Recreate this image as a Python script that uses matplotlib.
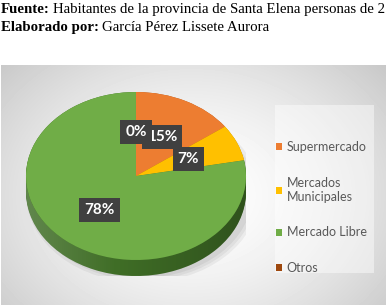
import matplotlib.pyplot as plt
import numpy as np
from matplotlib.patches import Rectangle, Ellipse, Polygon

# Datos del gráfico
categorias = ['Supermercado', 'Mercados\nMunicipales', 'Mercado Libre', 'Otros']
porcentajes = [15, 7, 78, 0.001]
etiquetas = ['15%', '7%', '78%', '0%']
colores = ['#ED7D31', '#FFC000', '#70AD47', '#9E480E']
colores_lado = ['#a8541d', '#b88a00', '#3f6d26', '#6b300a']

fuente = 'Habitantes de la provincia de Santa Elena personas de 2'
autor = 'García Pérez Lissete Aurora'

W, H = 387, 305
fig = plt.figure(figsize=(W / 100, H / 100), dpi=100)

# Fondo del área del gráfico (degradado radial gris)
bg = fig.add_axes([1 / W, 0, 385 / W, 240 / H])
yy, xx = np.mgrid[0:240, 0:385]
r = np.sqrt(((xx - 190) / 260.0) ** 2 + ((yy - 130) / 200.0) ** 2)
grad = 1 - 0.22 * np.clip(r, 0, 1) ** 1.6
bg.imshow(grad, cmap='gray', vmin=0, vmax=1, aspect='auto',
          extent=[0, 1, 0, 1], origin='upper')
bg.set_xlim(0, 1)
bg.set_ylim(0, 1)
bg.axis('off')

# Caja clara de la leyenda
fig.patches.append(Rectangle((275 / W, (H - 273) / H), 99 / W, 168 / H,
                             transform=fig.transFigure, fc='white',
                             alpha=0.45, ec='none', zorder=0.5))

# Textos de encabezado
serif = dict(fontfamily='Liberation Serif', fontsize=10.7)
t1 = fig.text(1 / W, 1 - 13 / H, 'Fuente:', fontweight='bold',
              va='baseline', **serif)
t2 = fig.text(1 / W, 1 - 31 / H, 'Elaborado por:', fontweight='bold',
              va='baseline', **serif)
ann_ax = fig.add_axes([0, 0, 1, 1], facecolor='none')
ann_ax.axis('off')
for t, txt in [(t1, fuente), (t2, autor)]:
    ann_ax.annotate(txt, xy=(1, 0), xycoords=t, xytext=(3, 0),
                    textcoords='offset pixels', va='bottom', ha='left',
                    annotation_clip=False, **serif)

# Pastel 3D
left, right, top, bottom_face, bottom = 26, 246, 92, 260, 276
ry = (bottom_face - top) / 2
d = (bottom - bottom_face) / ry
ax = fig.add_axes([left / W, (H - bottom) / H, (right - left) / W, (bottom - top) / H])

# Sombra suave
for i in range(3):
    ax.add_patch(Ellipse((0.06, -d - 0.02), 2.0 + 0.06 * i, 2.0 + 0.06 * i,
                         fc='black', alpha=0.05, ec='none', zorder=0))

# Lado (profundidad)
for k in np.linspace(d, 0.0, 12):
    ax.pie(porcentajes, colors=colores_lado, startangle=90, counterclock=False,
           center=(0, -k), radius=1, wedgeprops=dict(linewidth=0))

# Degradado horizontal sobre el lado: más claro a la izquierda, más oscuro a la derecha
ang = np.linspace(np.pi, 2 * np.pi, 100)
xs = np.concatenate([np.cos(ang), np.cos(ang[::-1])])
ys = np.concatenate([np.sin(ang), np.sin(ang[::-1]) - d])
side_clip = Polygon(np.column_stack([xs, ys]), closed=True,
                    transform=ax.transData, fc='none', ec='none')
ax.add_patch(side_clip)
shade = np.linspace(0.18, -0.25, 200)
lado = np.zeros((1, 200, 4))
lado[0, :, :3] = np.where(shade > 0, 1.0, 0.0)[:, None]
lado[0, :, 3] = np.abs(shade)
im = ax.imshow(lado, aspect='auto', extent=[-1, 1, -1 - d, 0], zorder=1.5)
im.set_clip_path(side_clip)

# Cara superior
wedges, _, autotexts = ax.pie(porcentajes, colors=colores, startangle=90,
                              counterclock=False, radius=1,
                              autopct='%1.0f%%', pctdistance=0.52,
                              wedgeprops=dict(linewidth=0, zorder=2))
for t, lab in zip(autotexts, etiquetas):
    t.set_text(lab)
    t.set_color('white')
    t.set_fontweight('bold')
    t.set_fontfamily('Lato')
    t.set_fontsize(11)
    t.set_zorder(3)
    t.set_bbox(dict(boxstyle='square,pad=0.32', fc='#404040', ec='none'))

ax.set_aspect('auto')
ax.set_xlim(-1, 1)
ax.set_ylim(-1 - d, 1)
ax.axis('off')

# Leyenda
fig.legend(wedges, categorias, loc='upper left',
           bbox_to_anchor=(276 / W, 1 - 141 / H), frameon=False,
           prop=dict(family='Lato', size=9), labelcolor='#595959',
           handlelength=0.5, handleheight=0.5, handletextpad=0.35,
           labelspacing=1.9, borderpad=0, borderaxespad=0)

fig.savefig('out.png', dpi=100)
